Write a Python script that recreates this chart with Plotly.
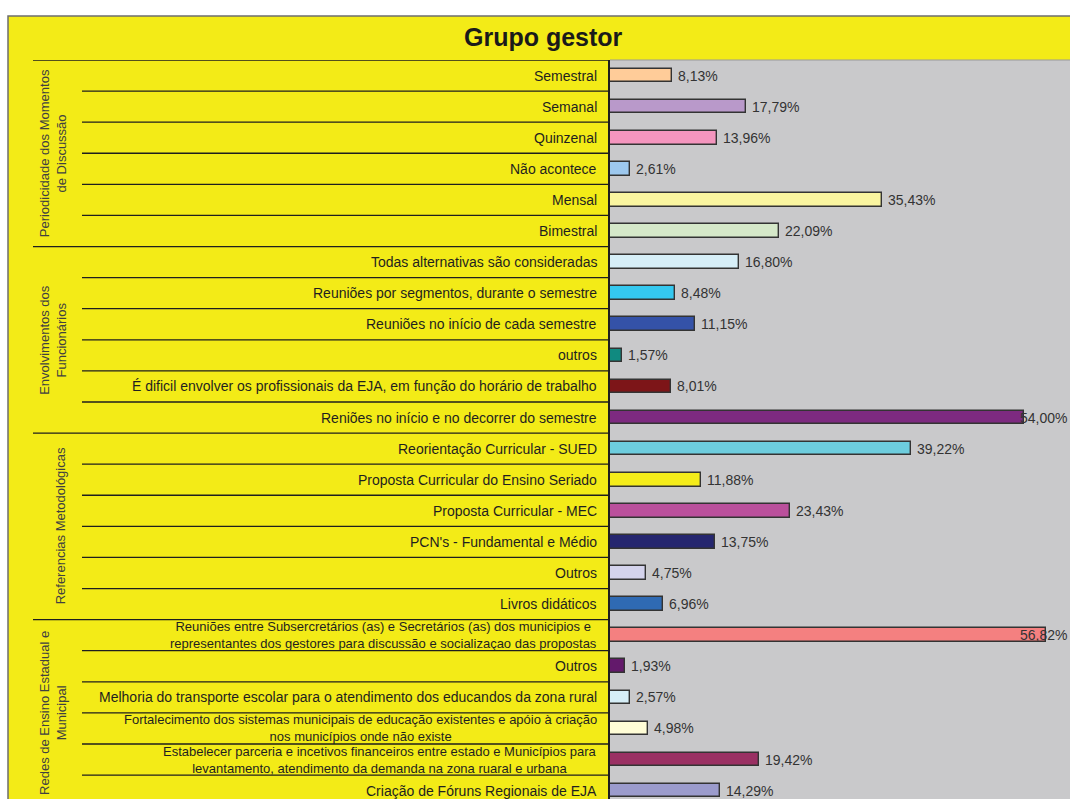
import plotly.graph_objects as go

# ---- data -----------------------------------------------------------------
groups = [
    "Periodicidade dos Momentos<br>de Discussão",
    "Envolvimentos dos<br>Funcionários",
    "Referencias Metodológicas",
    "Redes de Ensino Estadual e<br>Municipal",
]
group_sizes = [6, 6, 6, 6]

categories = [
    "Semestral",
    "Semanal",
    "Quinzenal",
    "Não acontece",
    "Mensal",
    "Bimestral",
    "Todas alternativas são consideradas",
    "Reuniões por segmentos, durante o semestre",
    "Reuniões no início de cada semestre",
    "outros",
    "É dificil envolver os profissionais da EJA, em função do horário de trabalho",
    "Reniões no início e no decorrer do semestre",
    "Reorientação Curricular - SUED",
    "Proposta Curricular do Ensino Seriado",
    "Proposta Curricular - MEC",
    "PCN's - Fundamental e Médio",
    "Outros",
    "Livros didáticos",
    "Reuniões entre Subsercretários (as) e Secretários (as) dos municipios e<br>"
    "representantes dos gestores para discussão e socializaçao das propostas",
    "Outros",
    "Melhoria do transporte escolar para o atendimento dos educandos da zona rural",
    "Fortalecimento dos sistemas municipais de educação existentes e apóio à criação<br>"
    "nos municípios onde não existe",
    "Estabelecer parceria e incetivos financeiros entre estado e Municípios para<br>"
    "levantamento, atendimento da demanda na zona ruaral e urbana",
    "Criação de Fóruns Regionais de EJA",
]

values = [
    8.13, 17.79, 13.96, 2.61, 35.43, 22.09,
    16.80, 8.48, 11.15, 1.57, 8.01, 54.00,
    39.22, 11.88, 23.43, 13.75, 4.75, 6.96,
    56.82, 1.93, 2.57, 4.98, 19.42, 14.29,
]

bar_colors = [
    "#FFCC99", "#B999CA", "#F495BE", "#9DC8EE", "#FAF5A0", "#D5E8C9",
    "#D6EEF7", "#34C8F0", "#3452A8", "#108A80", "#7D1518", "#7D2A80",
    "#6DCDDE", "#F4EC1A", "#BA509C", "#25266F", "#D4D3EC", "#2F6AB3",
    "#F48080", "#63196B", "#D6EEF7", "#FFFDD6", "#9A3063", "#9B9BCC",
]

title_text = "Grupo gestor"

# ---- geometry ---------------------------------------------------------------
W, H = 1070, 799
L, T = 610, 60          # left edge / top edge of the plotting area (px)
ROW_PX = 31.09          # height of one category row (px)
X_MAX = 60.0            # right end of the value axis (%)

YELLOW = "#F3EB17"
GRAY = "#C9C9CB"
FONT = "Liberation Sans, Arial, sans-serif"

n = len(categories)
pos = list(range(n))
y_bottom = -0.5 + (H - T) / ROW_PX


def px_x(p):
    return (p - L) / (W - L)


def px_y(p):
    return (H - p) / (H - T)


fig = go.Figure()

fig.add_trace(go.Bar(
    x=values,
    y=pos,
    orientation="h",
    width=0.44,
    marker=dict(color=bar_colors, line=dict(color="#333333", width=1.4)),
    hoverinfo="skip",
    showlegend=False,
))

shapes = []
annotations = []

# yellow frame behind everything
shapes.append(dict(
    type="rect", xref="paper", yref="paper", layer="below",
    x0=px_x(8), x1=px_x(1080), y0=px_y(810), y1=px_y(16),
    fillcolor=YELLOW, line=dict(color="#6E6E6E", width=1.5),
))
# gray plotting area on top of the frame
shapes.append(dict(
    type="rect", xref="paper", yref="paper", layer="below",
    x0=0, x1=1.01, y0=-0.01, y1=1,
    fillcolor=GRAY, line=dict(width=0),
))

# row and group separators in the label column
for k in range(n + 1):
    x0 = px_x(33) if k % 6 == 0 else px_x(82)
    shapes.append(dict(
        type="line", xref="paper", yref="y",
        x0=x0, x1=0, y0=k - 0.5, y1=k - 0.5,
        line=dict(color="#1E1E1E", width=1.3),
    ))

# light border on top of the plotting area
shapes.append(dict(
    type="line", xref="paper", yref="paper",
    x0=0, x1=1, y0=1, y1=1, line=dict(color="#9A9A9A", width=1.2),
))

# title
annotations.append(dict(
    text=f"<b>{title_text}</b>", xref="paper", yref="paper",
    x=px_x(543), y=px_y(37), xanchor="center", yanchor="middle",
    showarrow=False, font=dict(family=FONT, size=25, color="#1A1A1A"),
))

# category labels (two-line labels set a little smaller to fit their row)
for i, cat in enumerate(categories):
    size = 13 if "<br>" in cat else 14
    annotations.append(dict(
        text=cat, xref="paper", yref="y", x=0, y=i, xshift=-11,
        xanchor="right", yanchor="middle", align="center", showarrow=False,
        font=dict(family=FONT, size=size, color="#1F1F1F"),
    ))

# value labels (kept inside the chart on the right edge)
label_w_px = 48
px_per_unit = (W - L) / X_MAX
for i, v in enumerate(values):
    txt = f"{v:.2f}".replace(".", ",") + "%"
    end_px = L + v * px_per_unit + 4 + label_w_px
    if end_px > W:
        annotations.append(dict(
            text=txt, xref="paper", yref="y", x=1, y=i, xshift=-1,
            xanchor="right", yanchor="middle", showarrow=False,
            font=dict(family=FONT, size=14, color="#333333"),
        ))
    else:
        annotations.append(dict(
            text=txt, xref="x", yref="y", x=v, y=i, xshift=4, xanchor="left",
            yanchor="middle", showarrow=False,
            font=dict(family=FONT, size=14, color="#333333"),
        ))

# rotated group labels
start = 0
for g, size in zip(groups, group_sizes):
    center = start + (size - 1) / 2
    two_lines = "<br>" in g
    annotations.append(dict(
        text=g, xref="paper", yref="y", x=px_x(53 if two_lines else 60),
        y=center, xanchor="center", yanchor="middle", textangle=-90,
        align="center", showarrow=False,
        font=dict(family=FONT, size=13, color="#404040"),
    ))
    start += size

fig.update_layout(
    width=W, height=H,
    margin=dict(l=L, r=0, t=T, b=0, pad=0),
    paper_bgcolor="white",
    plot_bgcolor=GRAY,
    bargap=0,
    shapes=shapes,
    annotations=annotations,
    xaxis=dict(range=[0, X_MAX], visible=False, fixedrange=True),
    yaxis=dict(
        range=[y_bottom, -0.5], showticklabels=False, ticks="",
        showgrid=False, zeroline=False, showline=True,
        linecolor="#1E1E1E", linewidth=1.5, fixedrange=True,
    ),
)

fig.write_html("out.html", config={"displayModeBar": False})
